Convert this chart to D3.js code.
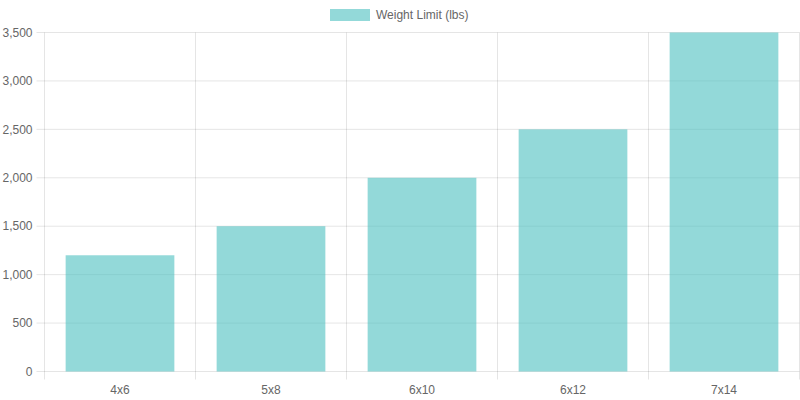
<!DOCTYPE html>
<html><head><meta charset="utf-8">
<script src="https://cdn.jsdelivr.net/npm/d3@7"></script>
<style>body{margin:0;background:#fff}svg{display:block}text{font-family:"Liberation Sans",Arial,sans-serif}</style>
</head><body>
<svg id="c" width="800" height="400"></svg>
<script>
const categories = ["4x6","5x8","6x10","6x12","7x14"];
const weightLimit = [1200,1500,2000,2500,3500];
const yTicks = [0,500,1000,1500,2000,2500,3000,3500];
const seriesName = "Weight Limit (lbs)";

const svg = d3.select("#c");
const L = 44.5, R = 799.5, T = 32.5, B = 371.5;
const x = d3.scaleBand().domain(categories).range([L, R]).paddingInner(0).paddingOuter(0);
const y = d3.scaleLinear().domain([0, 3500]).range([B, T]);
const grid = "rgba(0,0,0,0.1)";
const fill = "rgba(75,192,192,0.6)";

// horizontal grid
const gy = svg.append("g");
yTicks.forEach(t => {
  gy.append("line").attr("x1", L - 8).attr("x2", R).attr("y1", Math.round(y(t)) + 0.5 - 0.5 + (t===0?0:0)).attr("y2", y(t))
    .attr("stroke", grid).attr("stroke-width", 1);
});
gy.selectAll("line").attr("y1", function(){return d3.select(this).attr("y2");});
gy.selectAll("text").data(yTicks).join("text")
  .attr("x", L - 12).attr("y", d => y(d)).attr("dy", "0.35em")
  .attr("text-anchor", "end").attr("fill", "#666").attr("font-size", 12)
  .text(d => d3.format(",")(d));

// vertical grid
const gx = svg.append("g");
const edges = categories.map(c => x(c)).concat([R]);
edges.forEach(e => {
  gx.append("line").attr("x1", e).attr("x2", e).attr("y1", T).attr("y2", B + 8)
    .attr("stroke", grid).attr("stroke-width", 1);
});
gx.selectAll("text").data(categories).join("text")
  .attr("x", d => x(d) + x.bandwidth()/2).attr("y", B + 18).attr("dy", "0.35em")
  .attr("text-anchor", "middle").attr("fill", "#666").attr("font-size", 12)
  .text(d => d);

// bars
const bw = x.bandwidth() * 0.72;
svg.append("g").selectAll("rect").data(categories).join("rect")
  .attr("x", (d) => x(d) + (x.bandwidth() - bw)/2)
  .attr("width", bw)
  .attr("y", (d,i) => y(weightLimit[i]))
  .attr("height", (d,i) => y(0) - y(weightLimit[i]))
  .attr("fill", fill);

// legend
const lg = svg.append("g");
lg.append("rect").attr("x", 330).attr("y", 9).attr("width", 40).attr("height", 12).attr("fill", fill);
lg.append("text").attr("x", 376).attr("y", 15).attr("dy", "0.35em").attr("fill", "#666").attr("font-size", 12).text(seriesName);
</script>
</body></html>
